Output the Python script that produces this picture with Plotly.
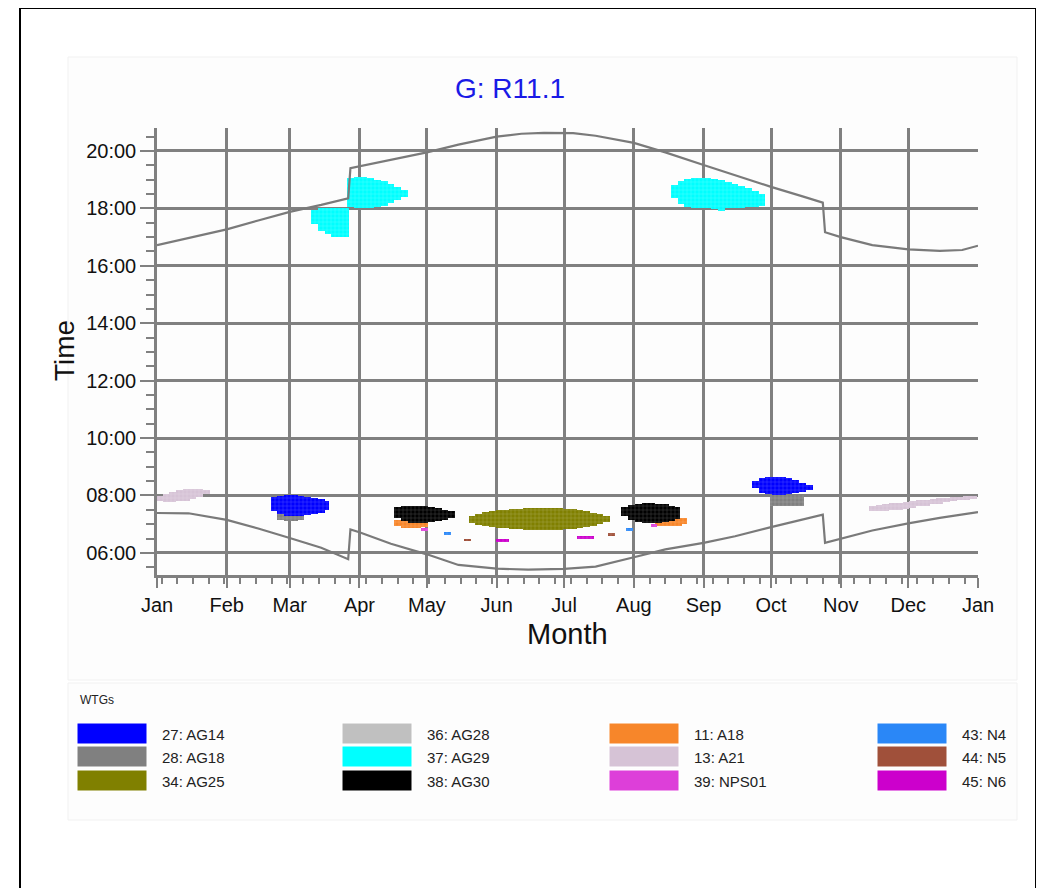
import plotly.graph_objects as go
import numpy as np

# ---------------- data ----------------
TITLE = "G: R11.1"
X_TITLE = "Month"
Y_TITLE = "Time"
Y_TICK_VALUES = [6, 8, 10, 12, 14, 16, 18, 20]
Y_TICK_LABELS = ["06:00", "08:00", "10:00", "12:00", "14:00", "16:00", "18:00", "20:00"]

LEGEND_TITLE = "WTGs"
LEGEND_KEYS = ["AG14", "AG18", "AG25", "AG28", "AG29", "AG30",
               "A18", "A21", "NPS01", "N4", "N5", "N6"]
LEGEND_LABELS = ["27: AG14", "28: AG18", "34: AG25", "36: AG28", "37: AG29", "38: AG30",
                 "11: A18", "13: A21", "39: NPS01", "43: N4", "44: N5", "45: N6"]
LEGEND_COLORS = ["#0000ff", "#808080", "#808000", "#c0c0c0", "#00ffff", "#000000",
                 "#f7862a", "#d6c3d6", "#dd3fd9", "#2a87f7", "#a0503a", "#cc00cc"]

# sunset / sunrise (hours, local time)
SUNSET_DATES = ["2021-01-01", "2021-01-15", "2021-02-01", "2021-02-15", "2021-03-01", "2021-03-15",
                "2021-03-27", "2021-03-28", "2021-04-15", "2021-05-01", "2021-05-15", "2021-06-01",
                "2021-06-12", "2021-06-22", "2021-07-05", "2021-07-15", "2021-08-01", "2021-08-15",
                "2021-09-01", "2021-09-15", "2021-10-01", "2021-10-15", "2021-10-24", "2021-10-25",
                "2021-11-01", "2021-11-15", "2021-12-01", "2021-12-15", "2021-12-25", "2022-01-01"]
SUNSET_TIME = [16.72, 16.98, 17.27, 17.58, 17.88, 18.12,
               18.35, 19.40, 19.70, 19.95, 20.22, 20.50,
               20.60, 20.63, 20.62, 20.53, 20.28, 19.95,
               19.51, 19.15, 18.75, 18.42, 18.20, 17.17,
               17.00, 16.72, 16.57, 16.52, 16.55, 16.70]

SUNRISE_DATES = ["2021-01-01", "2021-01-15", "2021-02-01", "2021-02-15", "2021-03-01", "2021-03-15",
                 "2021-03-27", "2021-03-28", "2021-04-01", "2021-04-15", "2021-05-01", "2021-05-15",
                 "2021-06-01", "2021-06-15", "2021-07-01", "2021-07-15", "2021-08-01", "2021-08-15",
                 "2021-09-01", "2021-09-15", "2021-10-01", "2021-10-15", "2021-10-24", "2021-10-25",
                 "2021-11-01", "2021-11-15", "2021-12-01", "2021-12-15", "2022-01-01"]
SUNRISE_TIME = [7.39, 7.38, 7.15, 6.85, 6.52, 6.18,
                5.78, 6.82, 6.72, 6.32, 5.95, 5.58,
                5.45, 5.42, 5.44, 5.52, 5.85, 6.12,
                6.35, 6.58, 6.90, 7.15, 7.33, 6.35,
                6.50, 6.78, 7.03, 7.22, 7.42]

# shadow blobs: (date, start hour, end hour)
AG18_MAR = [("2021-02-25", 7.15, 7.45), ("2021-02-28", 7.10, 7.45), ("2021-03-03", 7.10, 7.45),
            ("2021-03-06", 7.15, 7.40)]
AG18_OCT = [("2021-10-02", 7.65, 8.00), ("2021-10-05", 7.62, 8.00), ("2021-10-08", 7.62, 8.00),
            ("2021-10-11", 7.62, 8.00), ("2021-10-14", 7.65, 8.00)]
AG14_MAR = [("2021-02-22", 7.45, 7.95), ("2021-02-25", 7.35, 7.98), ("2021-02-28", 7.30, 8.00),
            ("2021-03-03", 7.30, 8.00), ("2021-03-06", 7.30, 7.98), ("2021-03-09", 7.32, 7.95),
            ("2021-03-12", 7.35, 7.92), ("2021-03-15", 7.40, 7.88), ("2021-03-17", 7.50, 7.80)]
AG14_OCT = [("2021-09-24", 8.25, 8.50), ("2021-09-27", 8.10, 8.60), ("2021-09-30", 8.05, 8.63),
            ("2021-10-03", 8.02, 8.65), ("2021-10-06", 8.02, 8.63), ("2021-10-09", 8.05, 8.60),
            ("2021-10-12", 8.08, 8.55), ("2021-10-15", 8.12, 8.45), ("2021-10-18", 8.20, 8.35)]
A21_JAN = [("2021-01-02", 7.80, 7.98), ("2021-01-05", 7.78, 8.05), ("2021-01-08", 7.78, 8.12),
           ("2021-01-11", 7.80, 8.18), ("2021-01-14", 7.82, 8.22), ("2021-01-17", 7.88, 8.24),
           ("2021-01-20", 7.95, 8.22), ("2021-01-23", 8.05, 8.20)]
A21_DEC = [("2021-11-15", 7.45, 7.62), ("2021-11-18", 7.45, 7.66), ("2021-11-21", 7.46, 7.70),
           ("2021-11-24", 7.48, 7.73), ("2021-11-27", 7.50, 7.75), ("2021-11-30", 7.54, 7.78),
           ("2021-12-03", 7.58, 7.81), ("2021-12-06", 7.62, 7.83), ("2021-12-09", 7.65, 7.85),
           ("2021-12-12", 7.69, 7.88), ("2021-12-15", 7.72, 7.90), ("2021-12-18", 7.76, 7.92),
           ("2021-12-21", 7.80, 7.95), ("2021-12-24", 7.84, 7.96), ("2021-12-27", 7.86, 7.97),
           ("2021-12-30", 7.88, 7.98)]
AG29_MAR = [("2021-03-12", 17.45, 17.95), ("2021-03-15", 17.20, 18.00), ("2021-03-18", 17.10, 18.00),
            ("2021-03-21", 17.02, 18.00), ("2021-03-24", 17.00, 18.00), ("2021-03-26", 17.00, 18.00)]
AG29_APR = [("2021-03-28", 18.05, 19.05), ("2021-03-31", 18.00, 19.10), ("2021-04-03", 18.00, 19.10),
            ("2021-04-06", 18.02, 19.05), ("2021-04-09", 18.05, 19.00), ("2021-04-12", 18.10, 18.95),
            ("2021-04-15", 18.20, 18.85), ("2021-04-18", 18.30, 18.75), ("2021-04-21", 18.40, 18.65)]
AG29_SEP = [("2021-08-19", 18.35, 18.80), ("2021-08-22", 18.15, 18.95), ("2021-08-25", 18.05, 19.02),
            ("2021-08-28", 18.00, 19.05), ("2021-08-31", 18.00, 19.06), ("2021-09-03", 18.00, 19.05),
            ("2021-09-06", 17.98, 19.02), ("2021-09-09", 17.90, 18.98), ("2021-09-12", 18.00, 18.92),
            ("2021-09-15", 18.00, 18.85), ("2021-09-18", 18.02, 18.78), ("2021-09-21", 18.05, 18.70),
            ("2021-09-24", 18.05, 18.62), ("2021-09-27", 18.10, 18.50)]
A18_MAY = [("2021-04-18", 6.95, 7.15), ("2021-04-21", 6.88, 7.20), ("2021-04-24", 6.86, 7.20),
           ("2021-04-27", 6.88, 7.20), ("2021-04-30", 6.90, 7.15)]
A18_AUG = [("2021-08-12", 6.95, 7.20), ("2021-08-15", 6.92, 7.25), ("2021-08-18", 6.92, 7.25),
           ("2021-08-21", 6.95, 7.22), ("2021-08-23", 7.00, 7.20)]
AG30_MAY = [("2021-04-18", 7.20, 7.60), ("2021-04-21", 7.10, 7.65), ("2021-04-24", 7.05, 7.65),
            ("2021-04-27", 7.05, 7.65), ("2021-04-30", 7.05, 7.62), ("2021-05-03", 7.08, 7.60),
            ("2021-05-06", 7.10, 7.55), ("2021-05-09", 7.15, 7.50), ("2021-05-12", 7.20, 7.45)]
AG30_AUG = [("2021-07-28", 7.30, 7.60), ("2021-07-31", 7.15, 7.68), ("2021-08-03", 7.08, 7.72),
            ("2021-08-06", 7.05, 7.74), ("2021-08-09", 7.05, 7.74), ("2021-08-12", 7.05, 7.72),
            ("2021-08-15", 7.08, 7.70), ("2021-08-18", 7.12, 7.65), ("2021-08-20", 7.18, 7.60)]
AG25_JUN = [("2021-05-21", 7.05, 7.30), ("2021-05-24", 6.98, 7.36), ("2021-05-27", 6.94, 7.41),
            ("2021-05-30", 6.90, 7.45), ("2021-06-02", 6.87, 7.48), ("2021-06-05", 6.85, 7.50),
            ("2021-06-08", 6.83, 7.52), ("2021-06-11", 6.82, 7.54), ("2021-06-14", 6.80, 7.55),
            ("2021-06-17", 6.80, 7.56), ("2021-06-20", 6.80, 7.57), ("2021-06-23", 6.80, 7.57),
            ("2021-06-26", 6.80, 7.56), ("2021-06-29", 6.81, 7.55), ("2021-07-02", 6.82, 7.54),
            ("2021-07-05", 6.84, 7.52), ("2021-07-08", 6.87, 7.49), ("2021-07-11", 6.90, 7.45),
            ("2021-07-14", 6.94, 7.40), ("2021-07-17", 7.00, 7.34), ("2021-07-20", 7.06, 7.28)]
NPS01_MARKS = [("2021-04-30", 6.76, 6.86), ("2021-08-10", 6.90, 7.00)]
N6_MARKS = [("2021-06-02", 6.38, 6.48), ("2021-06-05", 6.38, 6.48),
            ("2021-07-08", 6.50, 6.60), ("2021-07-11", 6.50, 6.60), ("2021-07-13", 6.50, 6.60)]
N4_MARKS = [("2021-05-10", 6.62, 6.74), ("2021-07-30", 6.76, 6.86)]
N5_MARKS = [("2021-05-19", 6.40, 6.50), ("2021-07-22", 6.58, 6.68)]

BLOBS = [("AG18", AG18_MAR), ("AG18", AG18_OCT), ("AG14", AG14_MAR), ("AG14", AG14_OCT),
         ("A21", A21_JAN), ("A21", A21_DEC), ("AG29", AG29_MAR), ("AG29", AG29_APR),
         ("AG29", AG29_SEP), ("A18", A18_MAY), ("A18", A18_AUG), ("AG30", AG30_MAY),
         ("AG30", AG30_AUG), ("AG25", AG25_JUN), ("NPS01", NPS01_MARKS), ("N6", N6_MARKS),
         ("N4", N4_MARKS), ("N5", N5_MARKS)]

# ---------------- style / layout ----------------
PAGE_OFFSET = 8                        # browser body margin
W, H = 1036, 880
PL, PR, PT, PB = 157, 978, 128, 575    # plot area box in screen pixels
DAY_MS = 86400000
BIN_MS = 3 * DAY_MS
GRID = "#808080"
COLOR = dict(zip(LEGEND_KEYS, LEGEND_COLORS))


def px2x(px):
    return (px - PL) / (PR - PL)


def py2y(py):
    return (PB - py) / (PB - PT)


fig = go.Figure()

for key, blob in BLOBS:
    fig.add_trace(go.Bar(
        x=[b[0] for b in blob],
        y=[b[2] - b[1] for b in blob],
        base=[b[1] for b in blob],
        width=BIN_MS,
        marker=dict(color=COLOR[key], line=dict(width=0),
                    pattern=dict(shape="+", fgcolor="white", fgopacity=0.3, size=4, solidity=0.2)),
        showlegend=False, hoverinfo="skip",
    ))

for dates, times in [(SUNSET_DATES, SUNSET_TIME), (SUNRISE_DATES, SUNRISE_TIME)]:
    fig.add_trace(go.Scatter(x=dates, y=times, mode="lines",
                             line=dict(color="#7a7a7a", width=2.2, shape="linear"),
                             showlegend=False, hoverinfo="skip"))

shapes = [
    dict(type="rect", xref="paper", yref="paper", x0=px2x(20), x1=px2x(1036), y0=py2y(920), y1=py2y(8),
         line=dict(color="black", width=2), fillcolor="rgba(0,0,0,0)", layer="below"),
    dict(type="rect", xref="paper", yref="paper", x0=px2x(68), x1=px2x(1017), y0=py2y(680), y1=py2y(57),
         line=dict(color="#f1f1f1", width=1), fillcolor="#fdfdfd", layer="below"),
    dict(type="rect", xref="paper", yref="paper", x0=px2x(68), x1=px2x(1017), y0=py2y(820), y1=py2y(683),
         line=dict(color="#f1f1f1", width=1), fillcolor="#fdfdfd", layer="below"),
]

annotations = [
    dict(text=TITLE, xref="paper", yref="paper", x=px2x(510), y=py2y(88), showarrow=False,
         font=dict(size=28, color="#1a1ae6"), xanchor="center", yanchor="middle"),
    dict(text=Y_TITLE, xref="paper", yref="paper", x=px2x(64), y=py2y(351), showarrow=False,
         textangle=-90, font=dict(size=28, color="#111111"), xanchor="center", yanchor="middle"),
    dict(text=X_TITLE, xref="paper", yref="paper", x=px2x(567), y=py2y(634), showarrow=False,
         font=dict(size=29, color="#111111"), xanchor="center", yanchor="middle"),
    dict(text=LEGEND_TITLE, xref="paper", yref="paper", x=px2x(78), y=py2y(700), showarrow=False,
         font=dict(size=12, color="#222222"), xanchor="left", yanchor="middle"),
]

COL_X = [77, 342, 609, 877]
ROW_Y = [723, 746, 770]
for i, (label, color) in enumerate(zip(LEGEND_LABELS, LEGEND_COLORS)):
    c, r = divmod(i, 3)
    x0 = COL_X[c]
    y0 = ROW_Y[r]
    shapes.append(dict(type="rect", xref="paper", yref="paper",
                       x0=px2x(x0), x1=px2x(x0 + 70), y0=py2y(y0 + 21), y1=py2y(y0),
                       line=dict(color="white", width=1), fillcolor=color))
    annotations.append(dict(text=label, xref="paper", yref="paper", x=px2x(x0 + 83), y=py2y(y0 + 11),
                            showarrow=False, xanchor="left", yanchor="middle",
                            font=dict(size=15, color="#222222")))

minor_y = [v for v in np.arange(5.5, 21.0, 0.5) if v not in Y_TICK_VALUES]

fig.update_layout(
    width=W, height=H,
    margin=dict(l=PL - PAGE_OFFSET, r=W - (PR - PAGE_OFFSET), t=PT - PAGE_OFFSET,
                b=H - (PB - PAGE_OFFSET), pad=0),
    paper_bgcolor="white", plot_bgcolor="rgba(0,0,0,0)",
    barmode="overlay", bargap=0, showlegend=False,
    font=dict(family="Liberation Sans, Arial, sans-serif", color="#111111"),
    shapes=shapes, annotations=annotations,
    xaxis=dict(type="date", range=["2021-01-01", "2022-01-01"], dtick="M1", tickformat="%b",
               showgrid=True, gridcolor=GRID, gridwidth=2.5, zeroline=False,
               showline=True, linecolor=GRID, linewidth=2.5,
               ticks="outside", ticklen=10, tickwidth=2, tickcolor=GRID,
               tickfont=dict(size=20, color="#111111"),
               minor=dict(dtick=7 * DAY_MS, ticks="outside", ticklen=6, tickwidth=1.5,
                          tickcolor=GRID, showgrid=False)),
    yaxis=dict(range=[5.23, 20.80], tickmode="array", tickvals=Y_TICK_VALUES, ticktext=Y_TICK_LABELS,
               showgrid=True, gridcolor=GRID, gridwidth=2.5, zeroline=False,
               showline=True, linecolor=GRID, linewidth=2.5,
               ticks="outside", ticklen=14, tickwidth=2, tickcolor=GRID,
               tickfont=dict(size=20, color="#111111"),
               minor=dict(tickmode="array", tickvals=minor_y, ticks="outside", ticklen=8,
                          tickwidth=1.5, tickcolor=GRID, showgrid=False)),
)

fig.write_html("out.html")
